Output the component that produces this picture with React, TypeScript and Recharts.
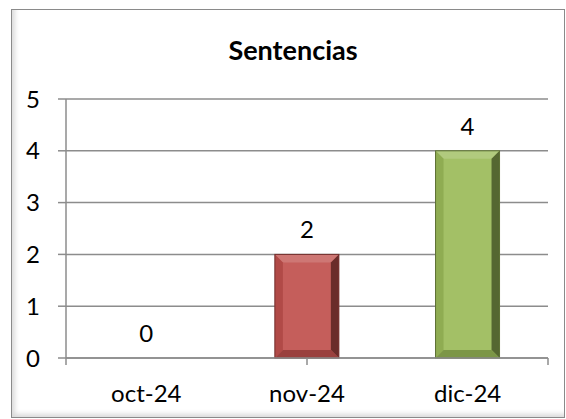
import { BarChart, Bar, XAxis, YAxis, CartesianGrid, Cell, LabelList } from 'recharts';

const categories = ['oct-24', 'nov-24', 'dic-24'];
const values = [0, 2, 4];
const barColors = ['#4F81BD', '#C0504D', '#9BBB59'];
const yTicks = [0, 1, 2, 3, 4, 5];
const edgeTicks = [0, 1, 2, 3];

const data = categories.map((month, i) => ({ month, value: values[i] }));

const GRID = '#8c8c8c';
const FONT = 'Lato, "Liberation Sans", sans-serif';

// mezcla un color hex con otro
const mix = (hex: string, target: string, t: number) => {
  const a = parseInt(hex.slice(1), 16);
  const b = parseInt(target.slice(1), 16);
  const ch = (s: number) => {
    const ca = (a >> s) & 255;
    const cb = (b >> s) & 255;
    return Math.round(ca + (cb - ca) * t);
  };
  return `rgb(${ch(16)},${ch(8)},${ch(0)})`;
};

const BevelBar = (props: any) => {
  const { x, y, width, height, index } = props;
  if (!height || height <= 0) return null;
  const base = barColors[index];
  const b = Math.min(8, width / 2, height / 2);
  const x2 = x + width;
  const y2 = y + height;
  return (
    <g>
      <rect x={x} y={y} width={width} height={height} fill={mix(base, '#ffffff', 0.08)} />
      <polygon
        points={`${x},${y} ${x2},${y} ${x2 - b},${y + b} ${x + b},${y + b}`}
        fill={mix(base, '#ffffff', 0.22)}
      />
      <polygon
        points={`${x},${y} ${x + b},${y + b} ${x + b},${y2 - b} ${x},${y2}`}
        fill={mix(base, '#000000', 0.08)}
      />
      <polygon
        points={`${x2},${y} ${x2},${y2} ${x2 - b},${y2 - b} ${x2 - b},${y + b}`}
        fill={mix(base, '#000000', 0.45)}
      />
      <polygon
        points={`${x},${y2} ${x + b},${y2 - b} ${x2 - b},${y2 - b} ${x2},${y2}`}
        fill={mix(base, '#000000', 0.2)}
      />
      <rect x={x} y={y} width={width} height={height} fill="none" stroke={mix(base, '#000000', 0.4)} strokeWidth={1} />
    </g>
  );
};

export default function App() {
  return (
    <div style={{ position: 'absolute', left: 0, top: 0, width: 566, height: 419, background: '#fff' }}>
      <div
        style={{
          position: 'absolute',
          left: 11,
          top: 9,
          width: 552,
          height: 407,
          border: '1px solid #8a8a8a',
          boxShadow: 'inset 5px -5px 5px -2px rgba(0,0,0,0.15)',
        }}
      />
      <div
        style={{
          position: 'absolute',
          left: 193,
          width: 200,
          top: 33,
          textAlign: 'center',
          fontFamily: FONT,
          fontWeight: 700,
          fontSize: 27,
          lineHeight: '34px',
          color: '#000',
        }}
      >
        Sentencias
      </div>
      <div style={{ position: 'absolute', left: 0, top: 0 }}>
        <BarChart
          width={566}
          height={419}
          data={data}
          margin={{ top: 99, right: 18, bottom: 0, left: 6 }}
          barCategoryGap="30%"
          style={{ fontFamily: FONT }}
        >
          <CartesianGrid xAxisId="b" vertical={false} stroke={GRID} strokeWidth={1.5} />
          <XAxis
            xAxisId="a"
            type="number"
            domain={[0, 3]}
            allowDataOverflow
            ticks={edgeTicks}
            interval={0}
            height={1}
            tickFormatter={() => ''}
            tickSize={7}
            tickLine={{ stroke: GRID, strokeWidth: 1.5 }}
            axisLine={{ stroke: GRID, strokeWidth: 1.5 }}
          />
          <XAxis
            xAxisId="b"
            dataKey="month"
            height={60}
            tickLine={false}
            tickSize={0}
            tickMargin={26}
            axisLine={false}
            tick={{ fill: '#000', fontSize: 24 }}
          />
          <YAxis
            width={60}
            domain={[0, 5]}
            ticks={yTicks}
            tickSize={8}
            tickMargin={18}
            tickLine={{ stroke: GRID, strokeWidth: 1.5 }}
            axisLine={{ stroke: GRID, strokeWidth: 1.5 }}
            tick={{ fill: '#000', fontSize: 24 }}
          />
          <Bar xAxisId="b" dataKey="value" shape={BevelBar} isAnimationActive={false}>
            {data.map((d, i) => (
              <Cell key={d.month} fill={barColors[i]} />
            ))}
            <LabelList dataKey="value" position="top" offset={16} fill="#000" fontSize={24} />
          </Bar>
        </BarChart>
      </div>
    </div>
  );
}
